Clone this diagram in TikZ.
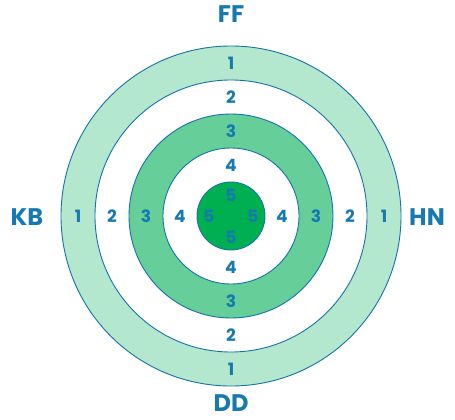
\documentclass[tikz,border=0pt]{standalone}
\usepackage{fontspec}
\newfontfamily\labfont{Poppins}
\definecolor{ringblue}{RGB}{20,115,170}
\definecolor{txtblue}{RGB}{22,122,176}
\definecolor{lightg}{RGB}{179,232,206}
\definecolor{midg}{RGB}{102,207,153}
\definecolor{darkg}{RGB}{0,176,80}
\tikzset{
  ring/.style={draw=ringblue, line width=0.9pt},
  num/.style={text=txtblue, font=\labfont\bfseries\fontsize{17}{17}\selectfont, inner sep=0pt},
  side/.style={text=txtblue, font=\labfont\bfseries\fontsize{24}{24}\selectfont, inner sep=0pt}
}
\begin{document}
\begin{tikzpicture}[x=1pt,y=-1pt]
\useasboundingbox (0,0) rectangle (455,420);
\coordinate (c) at (231,216);
\filldraw[ring, fill=lightg] (c) circle[radius=170];
\filldraw[ring, fill=white] (c) circle[radius=136];
\filldraw[ring, fill=midg] (c) circle[radius=102];
\filldraw[ring, fill=white] (c) circle[radius=68];
\filldraw[ring, fill=darkg] (c) circle[radius=34];
\foreach \n/\r in {1/153,2/119,3/85,4/51}{
  \node[num] (t\n) at ([yshift=-\r]c) {\n};
  \node[num] (b\n) at ([yshift=\r]c) {\n};
  \node[num] (l\n) at ([xshift=-\r]c) {\n};
  \node[num] (r\n) at ([xshift=\r]c) {\n};
}
\node[num] (t5) at ([yshift=-21]c) {5};
\node[num] (b5) at ([yshift=21]c) {5};
\node[num] (l5) at ([xshift=-22]c) {5};
\node[num] (r5) at ([xshift=22]c) {5};
\node[side] (ff) at (231,14) {FF};
\node[side] (dd) at (231,403) {DD};
\node[side] (kb) at (27,217) {KB};
\node[side] (hn) at (427,217) {HN};
\end{tikzpicture}
\end{document}
